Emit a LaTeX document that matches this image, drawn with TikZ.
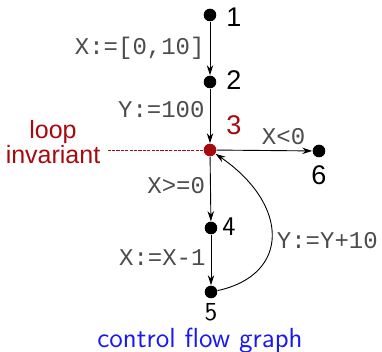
\documentclass[tikz,border=0pt]{standalone}
\usepackage{fontspec}
\setmainfont{Liberation Sans}
\newfontfamily\codefont{Liberation Mono}
\usetikzlibrary{arrows.meta}
\definecolor{invred}{RGB}{165,10,15}
\definecolor{cfgblue}{RGB}{25,25,240}
\begin{document}
\begin{tikzpicture}[x=0.5pt,y=-0.5pt,
    dot/.style={circle,fill,inner sep=0pt,minimum size=6.3pt},
    code/.style={font=\codefont\fontsize{12}{13}\selectfont, text=black!70, inner sep=2.5pt},
    num/.style={font=\fontsize{13.5}{14}\selectfont},
    cmnum/.style={font=\sffamily\fontsize{13.5}{14}\selectfont, inner sep=0pt},
    >={Stealth[length=5pt,width=3.2pt]}, line width=0.45pt]
    \useasboundingbox (0,0) rectangle (382,352);
    % the points of the graph
    \node[dot] (n1) at (210,15) {};
    \node[dot] (n2) at (210,82) {};
    \node[dot, invred] (n3) at (210,150) {};
    \node[dot] (n4) at (211,228) {};
    \node[dot] (n5) at (211,292) {};
    \node[dot] (n6) at (319,151) {};
    \node[num] (l1) at (234,17) {1};
    \node[num] (l2) at (234,80) {2};
    \node[num, text=invred] (l3) at (234,125) {3};
    \node[cmnum] (l4) at (229,227) {4};
    \node[cmnum, font=\sffamily\fontsize{13}{14}\selectfont] (l5) at (211,312) {5};
    \node[num] (l6) at (319,175) {6};
    % edges
    \draw[->] (n1) -- node[left, code] {X:=[0,10]} (n2);
    \draw[->] (n2) -- node[left, code, pos=0.38] {Y:=100} (n3);
    \draw[->] (n3) -- node[above, code, pos=0.7] {X<0} (n6);
    \draw[->] (n3) -- node[left, code, pos=0.45] {X>=0} (n4);
    \draw[->] (n4) -- node[left, code, pos=0.45] {X:=X-1} (n5);
    \draw[->] (n5) .. controls (290,275) and (290,205) .. node[right, code, pos=0.47] {Y:=Y+10} (n3);
    % loop invariant
    \node[invred, align=center, font=\fontsize{12.5}{11}\selectfont] (inv) at (53,142) {loop\\invariant};
    \draw[invred, dash pattern=on 1.6pt off 0.6pt] (n3) -- (n3 -| inv.east);
    \node[cfgblue, font=\sffamily\fontsize{13.8}{16}\selectfont, inner sep=0pt, anchor=base] (cfg) at (200,347.5) {control flow graph};
\end{tikzpicture}
\end{document}
